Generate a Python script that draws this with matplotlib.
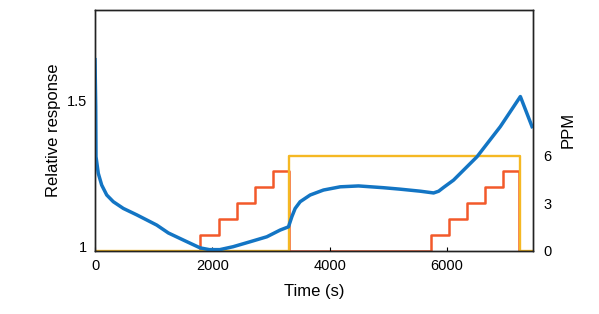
import matplotlib
matplotlib.use("Agg")
import matplotlib.pyplot as plt

# ---------------------------------------------------------
# DATA
# ---------------------------------------------------------

# relative sensor response vs time
resp_t = [0, 12, 17, 56, 114, 200, 312, 483, 712, 1053, 1251, 1536, 1792,
          1950, 2128, 2355, 2645, 2930, 3157, 3299, 3357, 3413, 3498, 3669,
          3896, 4181, 4494, 4915, 5200, 5546, 5773, 5860, 5944, 6114, 6514,
          6911, 7253, 7452]
resp_val = [1.64, 1.48, 1.308, 1.251, 1.211, 1.177, 1.154, 1.131, 1.109,
            1.074, 1.047, 1.02, 0.996, 0.99, 0.99, 1.0, 1.017, 1.034, 1.057,
            1.068, 1.103, 1.131, 1.154, 1.177, 1.194, 1.205, 1.208, 1.202,
            1.197, 1.19, 1.184, 1.19, 1.203, 1.228, 1.308, 1.411, 1.514, 1.411]

# stepped gas concentration (orange-red)
step_t = [0, 1797, 2111, 2428, 2730, 3032, 3305, 5734, 6041, 6343, 6643,
          6951, 7235, 7460]
step_ppm = [0, 1, 2, 3, 4, 5, 0, 1, 2, 3, 4, 5, 0, 0]

# constant gas pulse (yellow)
pulse_t = [0, 3315, 7240, 7460]
pulse_ppm = [0, 6, 0, 0]

x_ticks = [0, 2000, 4000, 6000]
left_ticks = [1, 1.5]
left_labels = ["1", "1.5"]
right_ticks = [0, 3, 6]

BLUE = "#1375C4"
RED = "#F2592A"
YELLOW = "#F5B823"

# ---------------------------------------------------------
# PLOT
# ---------------------------------------------------------

plt.rcParams["font.family"] = ["Liberation Sans", "DejaVu Sans"]

fig = plt.figure(figsize=(5.99, 3.14), dpi=100)
ax = fig.add_axes([0.1586, 0.2022, 0.7304, 0.7658])
ax2 = ax.twinx()

# concentrations on the right axis, drawn under the response curve
ax2.plot(step_t, step_ppm, drawstyle="steps-post", color=RED, lw=1.8, zorder=1)
ax2.plot(pulse_t, pulse_ppm, drawstyle="steps-post", color=YELLOW, lw=1.7, zorder=2)
ax2.set_ylim(0, 15.2)
ax2.set_yticks(right_ticks)
ax2.tick_params(axis="y", length=0, labelsize=10.5, pad=8)
ax2.set_ylabel("PPM", fontsize=12, labelpad=6)

# response on top
ax.set_zorder(ax2.get_zorder() + 1)
ax.patch.set_visible(False)
ax.plot(resp_t, resp_val, color=BLUE, lw=2.5, solid_joinstyle="round")
ax.set_xlim(0, 7460)
ax.set_ylim(0.987, 1.81)
ax.set_xticks(x_ticks)
ax.set_yticks(left_ticks)
ax.set_yticklabels(left_labels)
ax.tick_params(axis="x", direction="in", length=3, labelsize=10.5, pad=6)
ax.tick_params(axis="y", length=0, labelsize=10.5, pad=6)
ax.set_xlabel("Time (s)", fontsize=12, labelpad=8)
ax.set_ylabel("Relative response", fontsize=12, labelpad=4)

for a in (ax, ax2):
    for s in a.spines.values():
        s.set_linewidth(1.0)
        s.set_color("#222222")

fig.savefig("out.png", dpi=100)
